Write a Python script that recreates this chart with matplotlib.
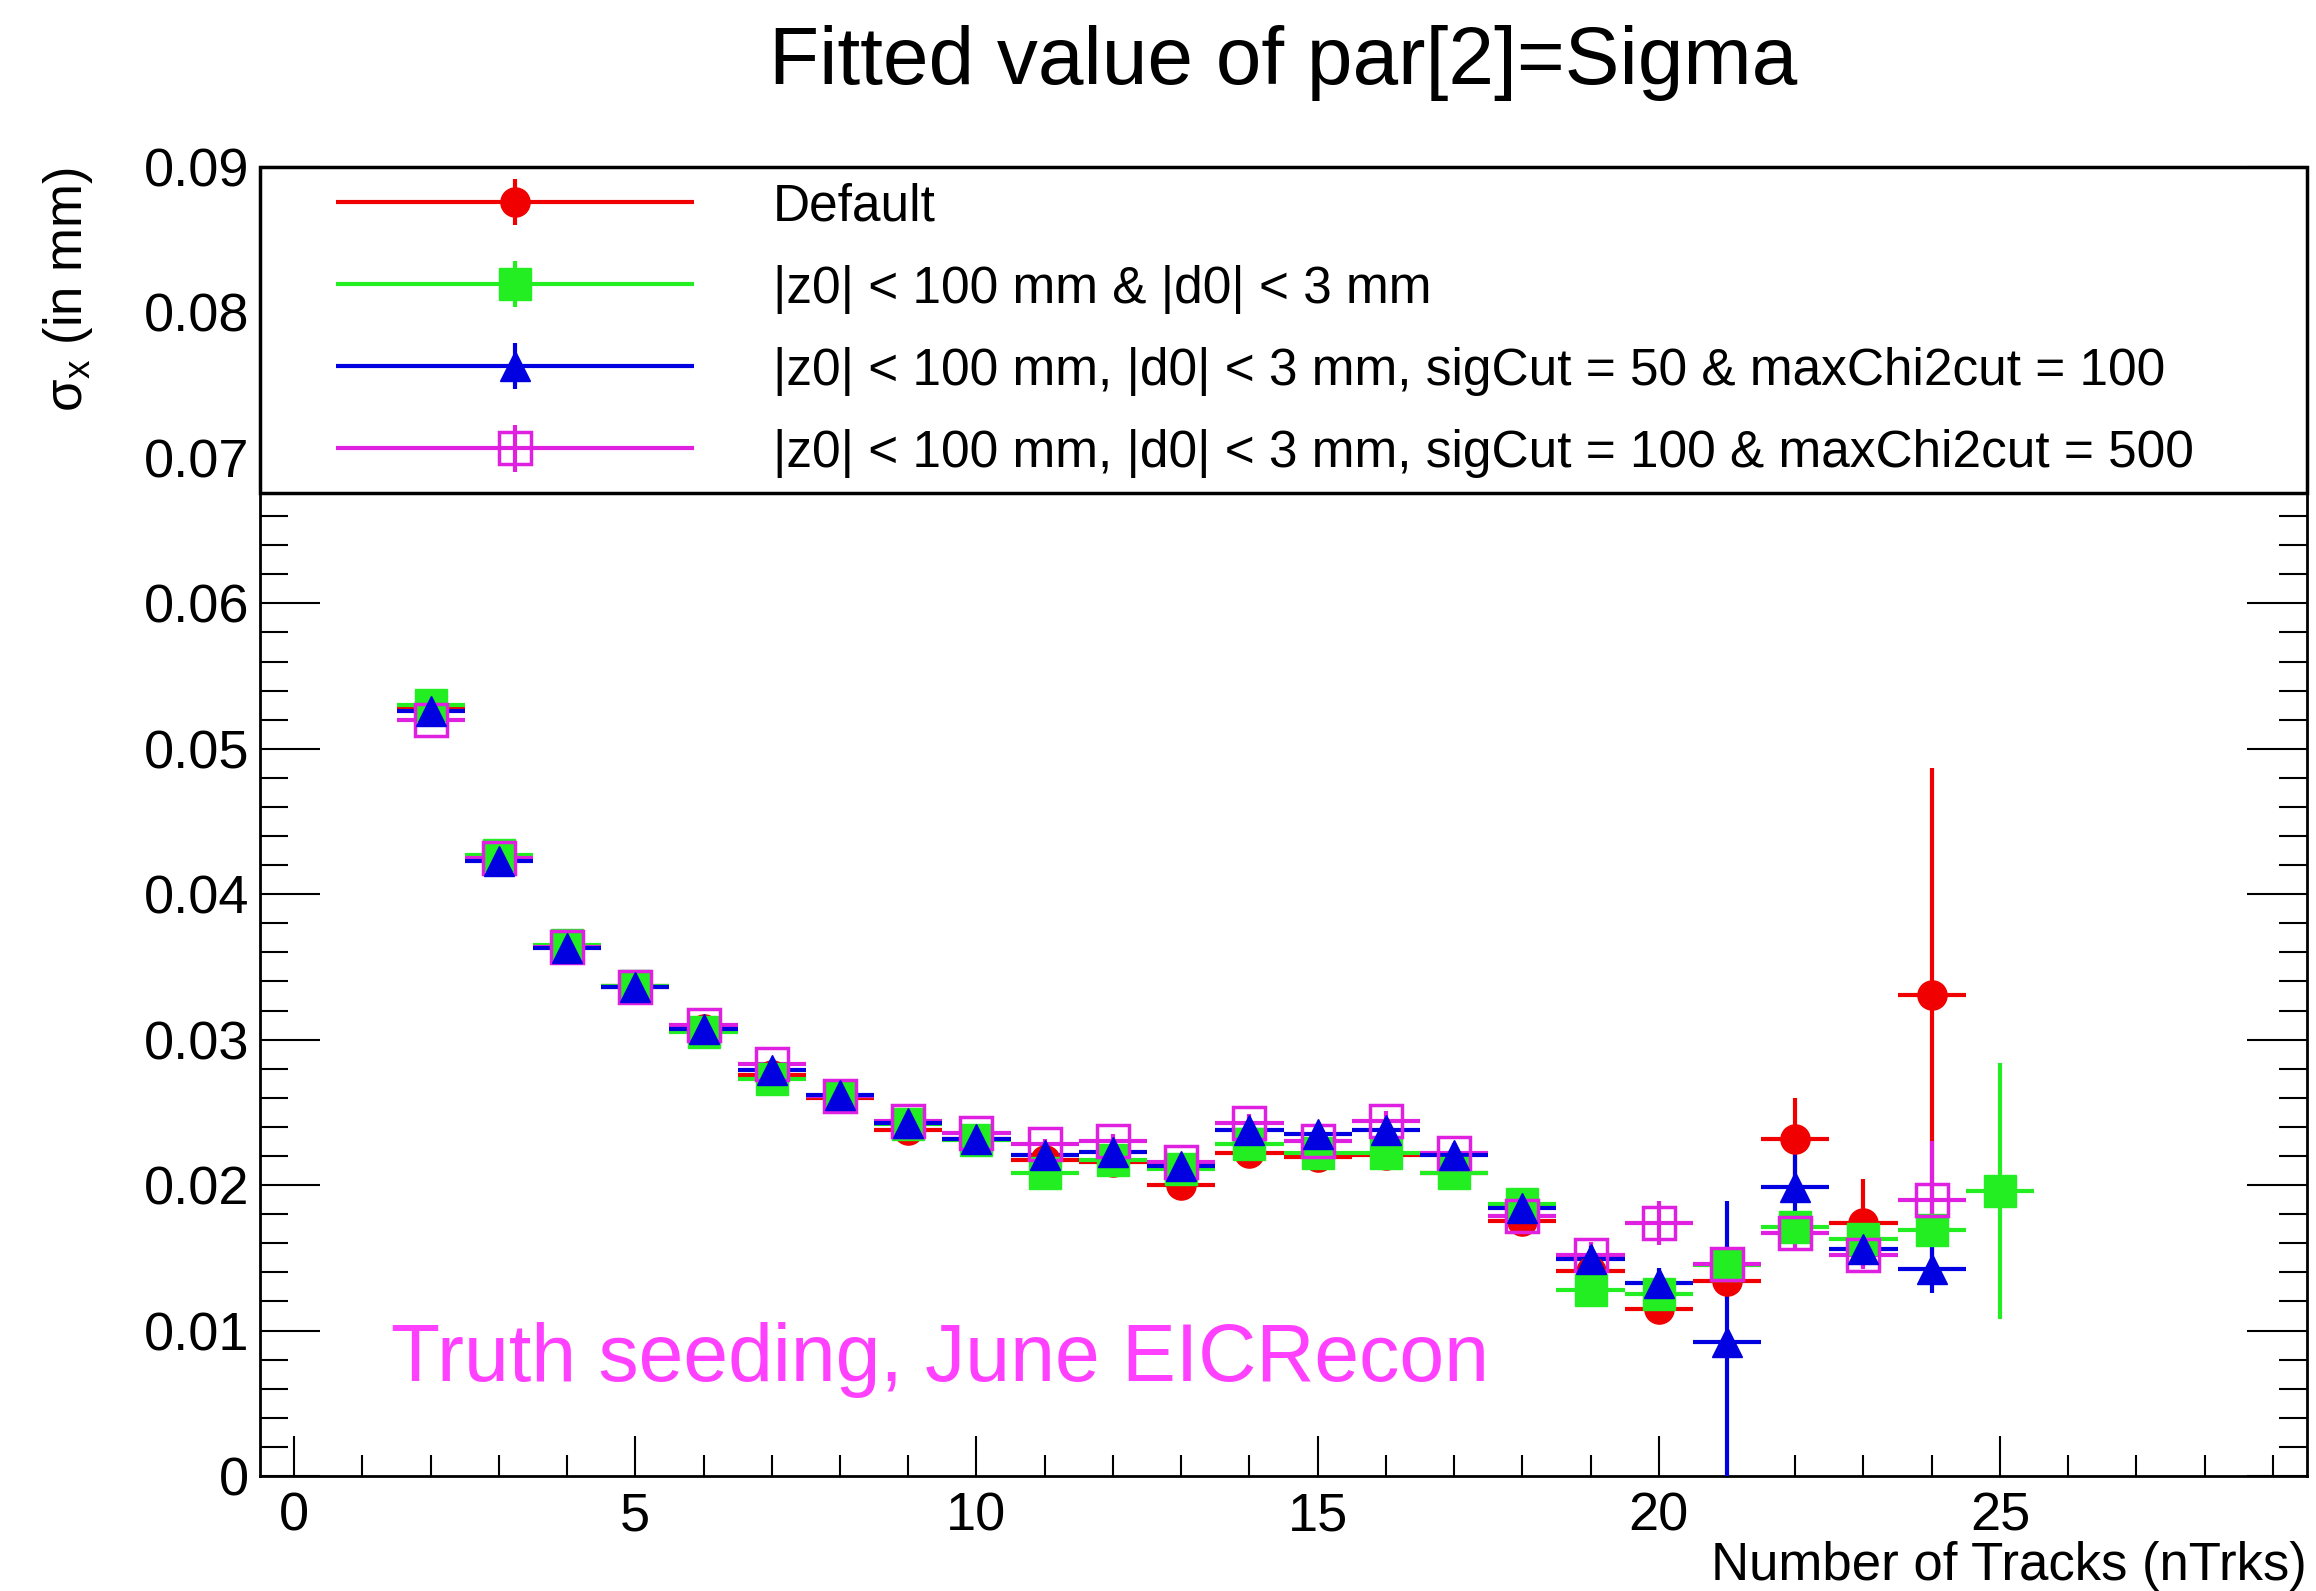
import numpy as np
import matplotlib
matplotlib.use("Agg")
from matplotlib import pyplot as plt
from matplotlib.ticker import MultipleLocator, FuncFormatter
from matplotlib.container import ErrorbarContainer
from matplotlib.legend_handler import HandlerErrorbar

plt.rcParams['font.family'] = ['Liberation Sans', 'DejaVu Sans']

# bin centres (number of tracks)
ntrks = list(range(2, 25))
ntrks_green = list(range(2, 26))

# fitted sigma per selection (mm)
sigma_default = [0.0528, 0.0425, 0.0364, 0.0337, 0.0307, 0.0276, 0.0260, 0.0238, 0.0232, 0.0217, 0.0216, 0.0200,
                 0.0222, 0.0219, 0.0221, 0.0208, 0.0175, 0.0141, 0.0115, 0.0134, 0.0232, 0.0174, 0.0331]
err_default = [0.0004, 0.0003, 0.0003, 0.0003, 0.0003, 0.0003, 0.0004, 0.0004, 0.0004, 0.0004, 0.0005, 0.0005,
               0.0006, 0.0006, 0.0007, 0.0007, 0.0008, 0.0009, 0.0010, 0.0012, 0.0028, 0.0030, 0.0156]

sigma_cut = [0.0530, 0.0427, 0.0365, 0.0337, 0.0305, 0.0273, 0.0261, 0.0242, 0.0231, 0.0208, 0.0217, 0.0211,
             0.0228, 0.0222, 0.0222, 0.0208, 0.0187, 0.0128, 0.0125, 0.0145, 0.0171, 0.0163, 0.0169, 0.0196]
err_cut = [0.0004, 0.0003, 0.0003, 0.0003, 0.0003, 0.0003, 0.0004, 0.0004, 0.0004, 0.0004, 0.0005, 0.0005,
           0.0006, 0.0006, 0.0007, 0.0007, 0.0008, 0.0009, 0.0010, 0.0012, 0.0012, 0.0010, 0.0012, 0.0088]

sigma_sig50 = [0.0526, 0.0423, 0.0363, 0.0336, 0.0307, 0.0279, 0.0262, 0.0243, 0.0232, 0.0221, 0.0223, 0.0213,
               0.0238, 0.0235, 0.0238, 0.0221, 0.0184, 0.0149, 0.0133, 0.0092, 0.0199, 0.0156, 0.0142]
err_sig50 = [0.0004, 0.0003, 0.0003, 0.0003, 0.0003, 0.0003, 0.0004, 0.0005, 0.0004, 0.0004, 0.0005, 0.0005,
             0.0006, 0.0006, 0.0007, 0.0007, 0.0008, 0.0009, 0.0010, 0.0097, 0.0030, 0.0010, 0.0016]

sigma_sig100 = [0.0520, 0.0425, 0.0364, 0.0336, 0.0310, 0.0283, 0.0261, 0.0244, 0.0236, 0.0228, 0.0230, 0.0216,
                0.0243, 0.0230, 0.0244, 0.0222, 0.0179, 0.0152, 0.0174, 0.0146, 0.0167, 0.0152, 0.0190]
err_sig100 = [0.0004, 0.0003, 0.0003, 0.0003, 0.0003, 0.0003, 0.0004, 0.0004, 0.0004, 0.0004, 0.0005, 0.0005,
              0.0006, 0.0006, 0.0007, 0.0007, 0.0008, 0.0009, 0.0015, 0.0012, 0.0012, 0.0010, 0.0040]

labels = ["Default",
          "|z0| < 100 mm & |d0| < 3 mm",
          "|z0| < 100 mm, |d0| < 3 mm, sigCut = 50 & maxChi2cut = 100",
          "|z0| < 100 mm, |d0| < 3 mm, sigCut = 100 & maxChi2cut = 500"]

red = '#f00000'
green = '#22ee22'
blue = '#0000e0'
magenta = '#e020e0'

fig = plt.figure(figsize=(23.16, 15.91), dpi=100)
ax = fig.add_axes([0.1123, 0.0723, 0.8838, 0.8227])

h1 = ax.errorbar(ntrks, sigma_default, yerr=err_default, xerr=0.5, fmt='o', color=red, ms=21,
                 elinewidth=3, capsize=0, zorder=3, label=labels[0])
h2 = ax.errorbar(ntrks_green, sigma_cut, yerr=err_cut, xerr=0.5, fmt='s', color=green, ms=23,
                 elinewidth=3, capsize=0, zorder=3, label=labels[1])
h4 = ax.errorbar(ntrks, sigma_sig100, yerr=err_sig100, xerr=0.5, fmt='s', color=magenta, mfc='none',
                 mec=magenta, mew=2.5, ms=23, elinewidth=3, capsize=0, zorder=3, label=labels[3])
h3 = ax.errorbar(ntrks, sigma_sig50, yerr=err_sig50, xerr=0.5, fmt='^', color=blue, ms=22,
                 elinewidth=3, capsize=0, zorder=3, label=labels[2])

ax.set_xlim(-0.5, 29.5)
ax.set_ylim(0, 0.09)

ax.xaxis.set_major_locator(MultipleLocator(5))
ax.xaxis.set_minor_locator(MultipleLocator(1))
ax.yaxis.set_major_locator(MultipleLocator(0.01))
ax.yaxis.set_minor_locator(MultipleLocator(0.002))
ax.yaxis.set_major_formatter(FuncFormatter(lambda v, p: '{:g}'.format(round(v, 3))))

ax.tick_params(axis='both', which='both', direction='in', top=True, right=True, width=1.5, labelsize=39)
ax.tick_params(axis='y', which='major', length=43, pad=8)
ax.tick_params(axis='y', which='minor', length=20)
ax.tick_params(axis='x', which='major', length=29, pad=11)
ax.tick_params(axis='x', which='minor', length=15)
for s in ax.spines.values():
    s.set_linewidth(2)

ax.set_xlabel("Number of Tracks (nTrks)", fontsize=38, loc='right')
ax.xaxis.set_label_coords(1.0, -0.05)
ax.set_ylabel("σ$_\\mathregular{x}$ (in mm)", fontsize=38, loc='top')
ax.yaxis.set_label_coords(-0.0805, 1.0)

fig.text(0.554, 1 - 63 / 1591, "Fitted value of par[2]=Sigma", fontsize=59, ha='center', va='center')

ax.text(0.064, 0.0726, "Truth seeding, June EICRecon", transform=ax.transAxes, color='#ff40ff',
        fontsize=58, va='baseline', ha='left', zorder=6)

# legend box across the top of the frame, ROOT style
fs = 37
bp = 0.3
leg = ax.legend([h1, h2, h3, h4], labels, loc='upper left', bbox_to_anchor=(0, 1, 1, 0), mode='expand',
                borderaxespad=0, borderpad=bp, fontsize=fs, handlelength=8.44 - bp, handletextpad=1.54,
                handleheight=0.77, labelspacing=0.645, fancybox=False, framealpha=1, edgecolor='black',
                handler_map={ErrorbarContainer: HandlerErrorbar(xerr_size=3.48, yerr_size=0.45, xpad=1.48 - bp)})
leg.get_frame().set_linewidth(2.5)
leg.set_zorder(10)

plt.savefig("out.png", dpi=100, facecolor='white')
